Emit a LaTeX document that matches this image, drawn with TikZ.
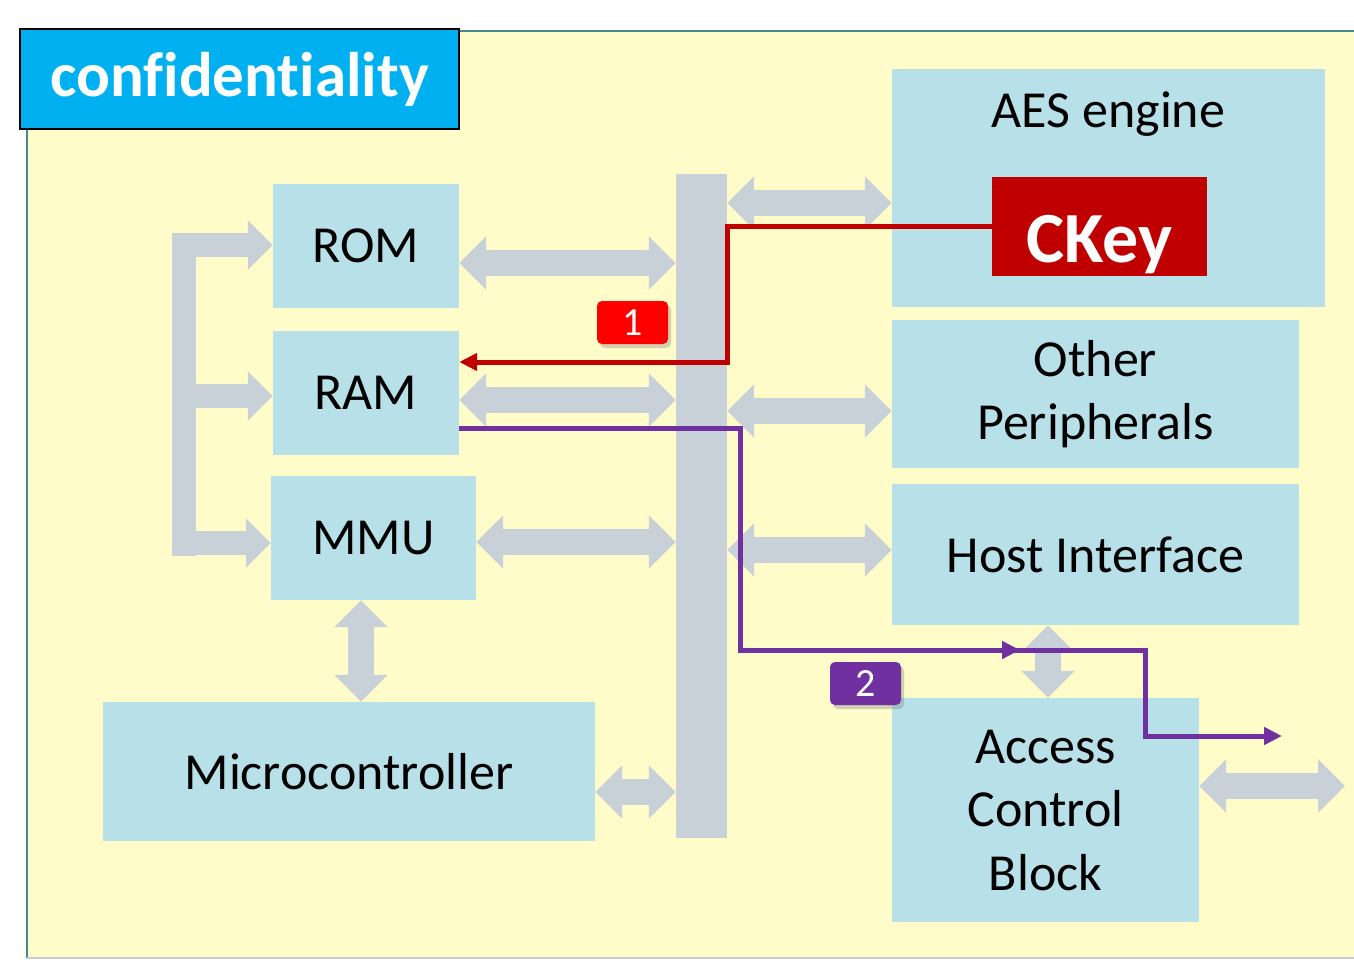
\documentclass[tikz,border=0pt]{standalone}
\usepackage{fontspec}
\setmainfont{Carlito}[Ligatures=NoCommon]
\usetikzlibrary{arrows.meta,shadows}

\definecolor{boxblue}{RGB}{183,224,232}
\definecolor{paper}{RGB}{255,252,202}
\definecolor{busgrey}{RGB}{201,209,216}
\definecolor{frameteal}{RGB}{70,135,150}
\definecolor{titleblue}{RGB}{0,176,240}
\definecolor{keyred}{RGB}{192,0,0}
\definecolor{leakpurple}{RGB}{112,48,160}
\newcommand{\blocktext}{\fontsize{52}{63.5}\selectfont}

\tikzset{
  block/.style={fill=boxblue, inner sep=0pt, align=center, font=\blocktext},
  fat/.style={draw=busgrey, line width=26pt, {Triangle[width=52pt,length=27pt]}-{Triangle[width=52pt,length=27pt]}},
  arm/.style={draw=busgrey, line width=24pt, -{Triangle[width=48pt,length=25pt]}},
  badge/.style={rounded corners=5pt, text=white, inner sep=0pt, minimum width=71pt, minimum height=43pt,
    font=\fontsize{40}{40}\selectfont, drop shadow={opacity=0.35, shadow xshift=3pt, shadow yshift=-4pt}},
  keyline/.style={draw=keyred, line width=5pt, -{Triangle[width=17pt,length=18pt]}},
  leakline/.style={draw=leakpurple, line width=5pt, -{Triangle[width=17pt,length=18pt]}}
}

\begin{document}
\begin{tikzpicture}[x=1pt,y=-1pt]
\useasboundingbox (0,0) rectangle (1354,960);
\fill[paper] (27,31) rectangle (1380,958);
\draw[frameteal, line width=2pt] (1380,31) -- (27,31) -- (27,958);
\draw[gray!40, line width=1.5pt] (27,958) -- (1380,958);

\node[fill=titleblue, draw=black, line width=2pt, minimum width=439pt, minimum height=100pt, text=white,
  font=\fontsize{63}{63}\selectfont\bfseries] (title) at (239.5,79) {confidentiality};

% memories and cpu
\node[block, minimum width=186pt, minimum height=124pt] (rom) at (366,246) {ROM};
\node[block, minimum width=186pt, minimum height=124pt] (ram) at (366,393) {RAM};
\node[block, minimum width=205pt, minimum height=124pt] (mmu) at (373.5,538) {MMU};
\node[block, minimum width=492pt, minimum height=139pt] (mcu) at (349,771.5) {Microcontroller};
\node[fill=busgrey, inner sep=0pt, minimum width=51pt, minimum height=664pt] (bus) at (701.5,506) {};

% peripherals
\node[block, minimum width=433pt, minimum height=238pt] (aes) at (1108.5,188) {};
\node[font=\blocktext, inner sep=0pt] (aestitle) at (1108.5,114) {AES engine};
\node[fill=keyred, inner sep=0pt, minimum width=215pt, minimum height=99pt] (ckey) at (1099.5,226.5) {};
\node[text=white, inner sep=0pt, font=\fontsize{72}{72}\selectfont\bfseries] (ckeytext) at ([yshift=-18pt]ckey.center) {CKey};
\node[block, minimum width=407pt, minimum height=148pt] (other) at (1095.5,394) {Other\\Peripherals};
\node[block, minimum width=407pt, minimum height=141pt] (host) at (1095.5,554.5) {Host Interface};
\node[block, minimum width=307pt, minimum height=224pt] (acb) at (1045.5,810) {Access\\Control\\Block};

% bus arrows
\draw[fat] (rom.east |- 0,263) -- (bus.west |- 0,263);
\draw[fat] (ram.east |- 0,400) -- (bus.west |- 0,400);
\draw[fat] (mmu.east |- 0,542) -- (bus.west |- 0,542);
\draw[fat] (mcu.east |- 0,792) -- (bus.west |- 0,792);
\draw[fat] (bus.east |- 0,203) -- (aes.west |- 0,203);
\draw[fat] (bus.east |- 0,411) -- (other.west |- 0,411);
\draw[fat] (bus.east |- 0,550) -- (host.west |- 0,550);
\draw[fat] (mmu.south -| 361,0) -- (mcu.north -| 361,0);
\draw[fat] (host.south -| 1048,0) -- (acb.north -| 1048,0);
\coordinate (outside) at (1345,786);
\draw[fat] (acb.east |- outside) -- (outside);

% left bracket
\draw[busgrey, line width=24pt] (184,233) -- (184,556);
\draw[arm] (172,245) -- (rom.west |- 0,245);
\draw[arm] (172,396) -- (ram.west |- 0,396);
\draw[arm] (172,543) -- (mmu.west |- 0,543);

% key path and leak path
\draw[keyline] (ckey.west) -- (bus.east |- ckey.west) -- (bus.east |- 0,362) -- (ram.east |- 0,362);
\coordinate (leak1) at (740,428);
\coordinate (leak2) at (740,650);
\coordinate (leak3) at (1145,650);
\coordinate (leak4) at (1145,736);
\coordinate (leakend) at (1282,736);
\draw[leakline] (ram.east |- leak1) -- (leak1) -- (leak2) -- (1020,650);
\draw[leakline] (1010,650) -- (leak3) -- (leak4) -- (leakend);

\node[badge, fill=red] (one) at (632.5,322.5) {1};
\node[badge, fill=leakpurple] (two) at (865.5,683.5) {2};
\end{tikzpicture}
\end{document}
